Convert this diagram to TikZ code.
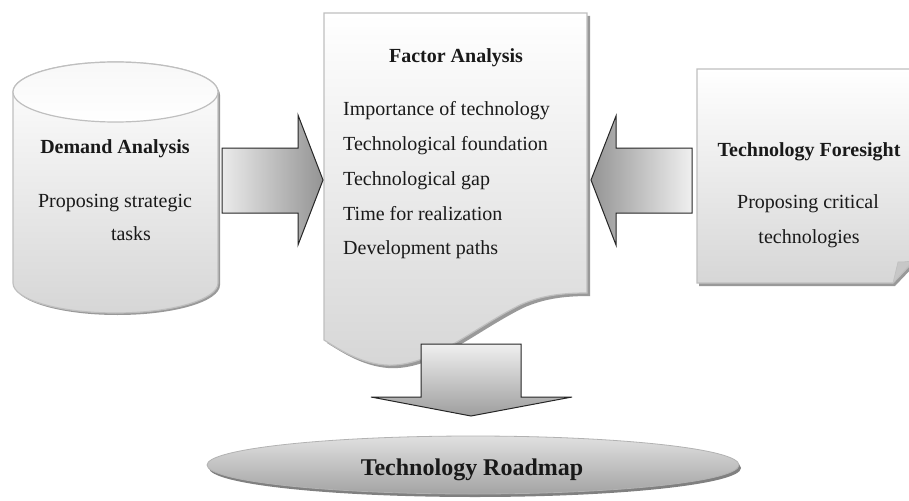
\documentclass[tikz,border=0pt]{standalone}
\usepackage{fontspec}
\setmainfont{Liberation Serif}
\begin{document}
\begin{tikzpicture}[x=1pt,y=-1pt]
\tikzset{
  boxline/.style={draw=black!25, line width=1.2pt},
  shadowfill/.style={fill=black!40, draw=none},
  blockarrow/.style={draw=black!85, line width=1pt, line join=miter},
  txt/.style={font=\fontsize{20}{24}\selectfont, inner sep=0pt, text=black!90},
  ttl/.style={font=\fontsize{20}{24}\selectfont\bfseries, inner sep=0pt, text=black!90},
  bigttl/.style={font=\fontsize{24}{28}\selectfont\bfseries, inner sep=0pt, text=black!90},
}
\useasboundingbox (0,0) rectangle (909,500);

% ---------- Demand Analysis cylinder ----------
\path[shadowfill] (15,95) -- (15,285) arc[start angle=180,end angle=0,x radius=102.5,y radius=30]
   -- (220,95) arc[start angle=0,end angle=-180,x radius=102.5,y radius=30] -- cycle;
\path[boxline, top color=white, bottom color=black!16]
   (13,92) -- (13,283) arc[start angle=180,end angle=0,x radius=102.5,y radius=30]
   -- (218,92) arc[start angle=0,end angle=-180,x radius=102.5,y radius=30] -- cycle;
\path[boxline, top color=black!3, bottom color=white] (115.5,92) ellipse[x radius=102.5,y radius=30];
\node[ttl, anchor=base] (da) at (115,153) {Demand Analysis};
\node[txt, anchor=base] (da1) at (115,207) {Proposing strategic};
\node[txt, anchor=base] (da2) at (131,240) {tasks};

% ---------- Factor Analysis document ----------
\path[shadowfill] (327,16) -- (590,16) -- (590,296)
   .. controls (563,296) and (543,299) .. (523,308)
   .. controls (473,333) and (433,371) .. (388,368)
   .. controls (363,366) and (343,353) .. (327,343) -- cycle;
\path[boxline, top color=white, bottom color=black!16]
   (324,13) -- (587,13) -- (587,293)
   .. controls (560,293) and (540,296) .. (520,305)
   .. controls (470,330) and (430,368) .. (385,365)
   .. controls (360,363) and (340,350) .. (324,340) -- cycle;
\node[ttl, anchor=base] (fa) at (456,63) {Factor Analysis};
\node[txt, anchor=base west] (f1) at (343,115) {Importance of technology};
\node[txt, anchor=base west] (f2) at (343,150) {Technological foundation};
\node[txt, anchor=base west] (f3) at (343,185) {Technological gap};
\node[txt, anchor=base west] (f4) at (343,220) {Time for realization};
\node[txt, anchor=base west] (f5) at (343,254) {Development paths};

% ---------- Technology Foresight note ----------
\path[shadowfill] (699,72) -- (915,72) -- (915,265) -- (895,286) -- (699,286) -- cycle;
\path[boxline, top color=white, bottom color=black!16]
   (697,69) -- (913,69) -- (913,262) -- (893,283) -- (697,283) -- cycle;
\path[fill=black!22, draw=black!25, line width=0.6pt]
   (893,283) .. controls (895,273) .. (898,262) .. controls (903,262) .. (913,261) -- cycle;
\node[ttl, anchor=base] (tf) at (809,156) {Technology Foresight};
\node[txt, anchor=base] (tf1) at (808,208) {Proposing critical};
\node[txt, anchor=base] (tf2) at (809,243) {technologies};

% ---------- block arrows ----------
\path[blockarrow, left color=black!8, right color=black!42]
   (222,148) -- (298,148) -- (298,115) -- (323,180) -- (298,245) -- (298,213) -- (222,213) -- cycle;
\path[blockarrow, left color=black!42, right color=black!6]
   (692,148) -- (616,148) -- (616,116) -- (591,180) -- (616,245) -- (616,213) -- (692,213) -- cycle;
\path[blockarrow, top color=black!6, bottom color=black!38]
   (421,344) -- (521,344) -- (521,397) -- (572,397) -- (471,416) -- (371,397) -- (421,397) -- cycle;

% ---------- Technology Roadmap ellipse ----------
\path[fill=black!50] (475,468) ellipse[x radius=266,y radius=29];
\path[draw=black!30, line width=0.8pt, top color=black!12, bottom color=black!36]
   (473,465) ellipse[x radius=266,y radius=29];
\node[bigttl, anchor=base] (tr) at (472,475) {Technology Roadmap};
\end{tikzpicture}
\end{document}
